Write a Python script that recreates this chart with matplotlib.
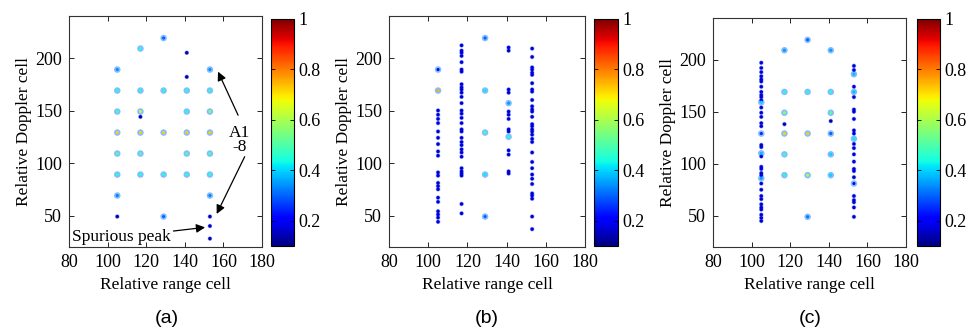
import matplotlib
matplotlib.use("Agg")
import matplotlib.pyplot as plt
import numpy as np

# (a) grid peaks: range cell, Doppler cell, normalised amplitude
a_range = [129, 117, 141, 105, 153, 141,
           105, 117, 129, 141, 153,
           105, 117, 117, 141, 153,
           105, 117, 129, 141, 153,
           105, 117, 141, 153,
           105, 117, 129, 141, 153,
           105, 153,
           105, 129, 153, 153, 153]
a_doppler = [219, 209, 205, 189, 189, 182,
             169, 169, 169, 169, 169,
             149, 149, 144, 149, 149,
             129, 129, 129, 129, 129,
             109, 109, 109, 109,
             89, 89, 89, 89, 89,
             69, 69,
             49, 49, 49, 40, 28]
a_value = [0.3, 0.45, 0.15, 0.34, 0.34, 0.13,
           0.45, 0.45, 0.45, 0.45, 0.45,
           0.48, 0.62, 0.14, 0.45, 0.55,
           0.72, 0.72, 0.72, 0.72, 0.72,
           0.50, 0.50, 0.50, 0.50,
           0.45, 0.45, 0.45, 0.45, 0.45,
           0.33, 0.33,
           0.15, 0.3, 0.15, 0.15, 0.14]

# (b) peaks
b_col105 = [189, 169, 150, 146, 142, 138, 130, 124, 118, 111, 107, 91, 88,
            81, 78, 75, 67, 63, 54, 51, 48, 44]
b_col117 = [212, 207, 205, 202, 196, 189, 187, 175, 172, 170, 167, 163, 157,
            150, 147, 143, 138, 132, 130, 124, 120, 117, 113, 110, 106, 95,
            92, 90, 88, 61, 52]
b_col129 = [219, 169, 129, 89, 49]
b_col141 = [210, 207, 170, 167, 157, 149, 146, 142, 132, 130, 125, 112, 108,
            92, 90]
b_col153 = [209, 201, 191, 189, 186, 184, 176, 170, 168, 160, 154, 151, 149,
            144, 137, 135, 132, 130, 127, 123, 120, 110, 101, 95, 89, 85, 80,
            71, 69, 66, 49, 37]
b_strong = {(105, 169): 0.75, (105, 189): 0.22, (129, 169): 0.42,
            (129, 129): 0.48, (129, 89): 0.42, (129, 49): 0.3,
            (129, 219): 0.3, (141, 157): 0.35, (141, 125): 0.45}

# (c) peaks
c_grid_range = [129, 117, 141, 117, 129, 141, 117, 141, 117, 141,
                117, 129, 141, 117, 141, 117, 129, 141, 129]
c_grid_doppler = [219, 209, 209, 169, 169, 169, 149, 149, 138, 141,
                  129, 129, 129, 109, 109, 89, 89, 89, 49]
c_grid_value = [0.3, 0.35, 0.35, 0.45, 0.45, 0.45, 0.55, 0.5, 0.14, 0.14,
                0.72, 0.72, 0.3, 0.48, 0.4, 0.45, 0.6, 0.4, 0.32]
c_col105 = [197, 192, 188, 184, 181, 179, 174, 169, 166, 164, 161, 159, 154,
            149, 145, 139, 136, 129, 118, 116, 110, 107, 97, 95, 91, 89, 86,
            81, 75, 69, 66, 61, 58, 56, 51, 48, 45]
c_col153 = [194, 190, 186, 174, 169, 164, 152, 150, 143, 132, 129, 124, 119,
            115, 109, 102, 95, 93, 87, 81, 69, 65, 63, 58, 49]
c_strong = {(105, 159): 0.4, (105, 110): 0.38, (105, 86): 0.35,
            (105, 129): 0.25, (153, 186): 0.38, (153, 169): 0.38,
            (153, 124): 0.42, (153, 81): 0.22}

weak_value = 0.17

xticks = [80, 100, 120, 140, 160, 180]
yticks = [50, 100, 150, 200]
cb_ticks = [0.2, 0.4, 0.6, 0.8, 1.0]
cb_labels = ["0.2", "0.4", "0.6", "0.8", "1"]
panel_labels = ["(a)", "(b)", "(c)"]


def columns(cols, strong):
    xs, ys, vs = [], [], []
    for x, ylist in cols:
        for y in ylist:
            xs.append(x)
            ys.append(y)
            vs.append(strong.get((x, y), weak_value))
    return xs, ys, vs


b_x, b_y, b_v = columns([(105, b_col105), (117, b_col117), (129, b_col129),
                         (141, b_col141), (153, b_col153)], b_strong)
c_x, c_y, c_v = columns([(105, c_col105), (153, c_col153)], c_strong)
c_x += c_grid_range
c_y += c_grid_doppler
c_v += c_grid_value

plt.rcParams["font.family"] = ["Liberation Serif", "DejaVu Serif"]
plt.rcParams["font.size"] = 12

fig = plt.figure(figsize=(9.68, 3.30), dpi=100)
ax_pos = [[0.0713, 0.2515, 0.1994, 0.700],
          [0.4019, 0.2515, 0.2025, 0.700],
          [0.7366, 0.2515, 0.1994, 0.694]]
cb_pos = [[0.2800, 0.2545, 0.0238, 0.688],
          [0.6140, 0.2545, 0.0245, 0.688],
          [0.9473, 0.2545, 0.0238, 0.688]]
label_x = [0.1725, 0.503, 0.837]

data = [(a_range, a_doppler, a_value), (b_x, b_y, b_v), (c_x, c_y, c_v)]
cmap = plt.get_cmap("jet")

for i, (xs, ys, vs) in enumerate(data):
    ax = fig.add_axes(ax_pos[i])
    vs = np.array(vs)
    weak = vs < 0.2
    halo = np.where(weak, 11, 22)
    core = np.where(weak, 6, 5)
    halo_col = np.where(weak[:, None], [[0.45, 0.55, 1.0, 0.7]],
                        [[0.35, 0.65, 1.0, 0.75]])
    ax.scatter(xs, ys, s=halo, c=halo_col, edgecolors="none", marker="o")
    sc = ax.scatter(xs, ys, s=core, c=vs, cmap=cmap, vmin=0.1, vmax=1.0,
                    edgecolors="none", marker="o")
    ax.set_xlim(80, 180)
    ax.set_ylim(20, 240)
    ax.set_xticks(xticks)
    ax.set_yticks(yticks)
    ax.tick_params(direction="in", top=True, right=True, length=3.5,
                   width=0.6, labelsize=13, pad=5)
    for sp in ax.spines.values():
        sp.set_linewidth(0.8)
        sp.set_color("#333333")
    ax.set_xlabel("Relative range cell", fontsize=12.5, labelpad=4)
    ax.set_ylabel("Relative Doppler cell", fontsize=12.5, labelpad=2)

    cax = fig.add_axes(cb_pos[i])
    cb = fig.colorbar(sc, cax=cax, ticks=cb_ticks)
    cb.ax.set_yticklabels(cb_labels)
    cb.ax.tick_params(direction="in", left=True, right=True, length=3,
                      width=0.6, labelsize=13, pad=3)
    cb.outline.set_linewidth(0.8)

    fig.text(label_x[i], 0.036, panel_labels[i], ha="center", va="center",
             fontsize=14, family=["Liberation Sans", "DejaVu Sans"])

    if i == 0:
        arrow = dict(arrowstyle="-|>", color="black", lw=0.9,
                     mutation_scale=13, shrinkA=0, shrinkB=0)
        ax.text(168.5, 122, "A1\n-8", ha="center", va="center", fontsize=12.5,
                linespacing=0.9)
        ax.annotate("", xy=(157.2, 187), xytext=(167.6, 145.5),
                    arrowprops=arrow)
        ax.annotate("", xy=(156.5, 51.5), xytext=(171, 106),
                    arrowprops=arrow)
        ax.annotate("Spurious peak", xy=(150.5, 38.7), xytext=(81.5, 29.5),
                    ha="left", va="center", fontsize=12.5, arrowprops=arrow)

fig.savefig("out.png", dpi=100)
